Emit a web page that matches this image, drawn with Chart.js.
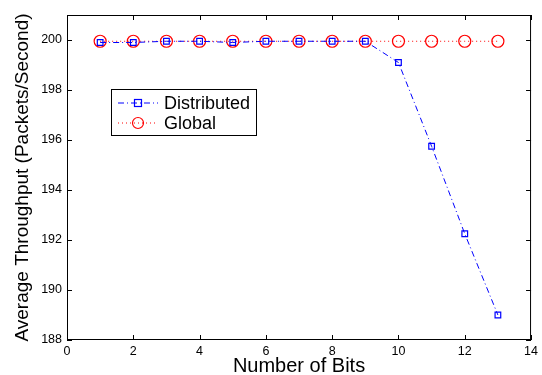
<!DOCTYPE html>
<html>
<head>
<meta charset="utf-8">
<script src="https://cdn.jsdelivr.net/npm/chart.js@4"></script>
<style>
  html, body { margin: 0; padding: 0; background: #fff; }
  #wrap { width: 542px; height: 375px; }
</style>
</head>
<body>
<div id="wrap"><canvas id="cchart" width="542" height="375"></canvas></div>
<script>
// Data
let bits = [1, 2, 3, 4, 5, 6, 7, 8, 9, 10, 11, 12, 13];
let distributed = [199.9, 199.9, 199.95, 199.95, 199.9, 199.95, 199.95, 199.95, 199.95, 199.1, 195.75, 192.25, 189.0];
let global = [199.95, 199.95, 199.95, 199.95, 199.95, 199.95, 199.95, 199.95, 199.95, 199.95, 199.95, 199.95, 199.95];
let xTicks = [0, 2, 4, 6, 8, 10, 12, 14];
let yTicks = [188, 190, 192, 194, 196, 198, 200];

const FONT = "'Liberation Sans', Arial, sans-serif";

/*
    Box, inward ticks (all four sides) and legend, MATLAB style
*/
const matlabFrame = {
    id: 'matlabFrame',
    afterDatasetsDraw(chart) {
        const { ctx, chartArea: a, scales } = chart;
        ctx.save();
        ctx.strokeStyle = '#000';
        ctx.lineWidth = 1;
        ctx.strokeRect(a.left + 0.5, a.top + 0.5, a.right - a.left - 1, a.bottom - a.top - 1);
        ctx.beginPath();
        xTicks.forEach(v => {
            let x = Math.round(scales.x.getPixelForValue(v)) + 0.5;
            ctx.moveTo(x, a.bottom); ctx.lineTo(x, a.bottom - 5);
            ctx.moveTo(x, a.top); ctx.lineTo(x, a.top + 5);
        });
        yTicks.forEach(v => {
            let y = Math.round(scales.y.getPixelForValue(v)) + 0.5;
            ctx.moveTo(a.left, y); ctx.lineTo(a.left + 5, y);
            ctx.moveTo(a.right, y); ctx.lineTo(a.right - 5, y);
        });
        ctx.stroke();

        // legend
        let lx = 111, ly = 89, lw = 145, lh = 46;
        ctx.fillStyle = '#fff';
        ctx.fillRect(lx, ly, lw, lh);
        ctx.strokeRect(lx + 0.5, ly + 0.5, lw, lh);
        let rows = [
            { label: 'Distributed', color: '#0000ff', dash: [6, 3, 1, 3], y: ly + 14 },
            { label: 'Global', color: '#ff0000', dash: [1, 3], y: ly + 34 }
        ];
        rows.forEach((r, i) => {
            ctx.strokeStyle = r.color;
            ctx.setLineDash(r.dash);
            ctx.beginPath();
            ctx.moveTo(lx + 7, r.y); ctx.lineTo(lx + 47, r.y);
            ctx.stroke();
            ctx.setLineDash([]);
            ctx.lineWidth = 1.2;
            if (i === 0) {
                ctx.strokeRect(lx + 23.5, r.y - 3.5, 7, 7);
            } else {
                ctx.beginPath();
                ctx.arc(lx + 27, r.y, 5.5, 0, Math.PI * 2);
                ctx.stroke();
            }
            ctx.lineWidth = 1;
            ctx.fillStyle = '#000';
            ctx.font = '18px ' + FONT;
            ctx.textBaseline = 'middle';
            ctx.fillText(r.label, lx + 53, r.y + 1);
        });
        ctx.restore();
    }
};

let ctx = document.getElementById('cchart').getContext('2d');
new Chart(ctx, {
    type: 'line',
    data: {
        datasets: [
            {
                label: 'Distributed',
                data: bits.map((b, i) => ({ x: b, y: distributed[i] })),
                borderColor: '#0000ff',
                borderWidth: 1,
                borderDash: [6, 3, 1, 3],
                pointStyle: 'rect',
                pointRadius: 4,
                pointBorderColor: '#0000ff',
                pointBackgroundColor: 'rgba(0,0,0,0)',
                pointBorderWidth: 1.2,
                fill: false,
                order: 1
            },
            {
                label: 'Global',
                data: bits.map((b, i) => ({ x: b, y: global[i] })),
                borderColor: '#ff0000',
                borderWidth: 1,
                borderDash: [1, 3],
                pointStyle: 'circle',
                pointRadius: 6,
                pointBorderColor: '#ff0000',
                pointBackgroundColor: 'rgba(0,0,0,0)',
                pointBorderWidth: 1.2,
                fill: false,
                order: 2
            }
        ]
    },
    options: {
        responsive: false,
        animation: false,
        layout: { padding: { top: 15, right: 6, left: 11, bottom: 0 } },
        plugins: { legend: { display: false }, tooltip: { enabled: false } },
        scales: {
            x: {
                type: 'linear',
                min: 0, max: 14,
                afterBuildTicks: s => { s.ticks = xTicks.map(v => ({ value: v })); },
                afterFit: s => { s.height = 35; },
                grid: { display: false, drawTicks: false },
                border: { display: false },
                ticks: { color: '#000', font: { family: FONT, size: 12.5 }, padding: 4, maxRotation: 0 },
                title: { display: true, text: 'Number of Bits', color: '#000', font: { family: FONT, size: 20 }, padding: { top: 0, bottom: -3 } }
            },
            y: {
                type: 'linear',
                min: 188, max: 201,
                afterBuildTicks: s => { s.ticks = yTicks.map(v => ({ value: v })); },
                afterFit: s => { s.width = 56; },
                grid: { display: false, drawTicks: false },
                border: { display: false },
                ticks: { color: '#000', font: { family: FONT, size: 12.5 }, padding: 5 },
                title: { display: true, text: 'Average Throughput (Packets/Second)', color: '#000', font: { family: FONT, size: 19 }, padding: { top: 0, bottom: 3 } }
            }
        }
    },
    plugins: [matlabFrame]
});
</script>
</body>
</html>
